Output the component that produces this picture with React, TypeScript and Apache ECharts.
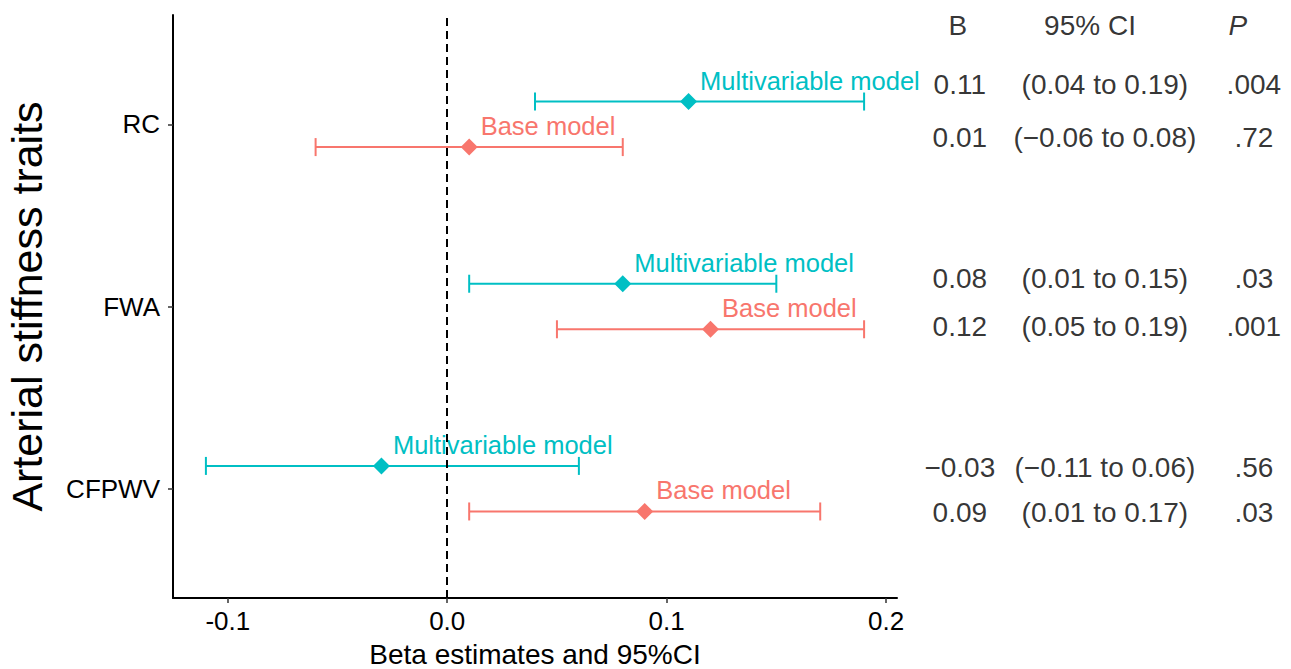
import React, { useEffect, useRef } from "react";
import * as echarts from "echarts";

// Categories from bottom (y = 1) to top (y = 3)
const categories = ["CFPWV", "FWA", "RC"];
const multiEst = [-0.03, 0.08, 0.11];
const multiLow = [-0.11, 0.01, 0.04];
const multiHigh = [0.06, 0.15, 0.19];
const baseEst = [0.09, 0.12, 0.01];
const baseLow = [0.01, 0.05, -0.06];
const baseHigh = [0.17, 0.19, 0.08];

const xTicks = [-0.1, 0, 0.1, 0.2];
const xTickLabels = ["-0.1", "0.0", "0.1", "0.2"];

// Table (top to bottom rows)
const tableHeaders = ["B", "95% CI", "P"];
const tableB = ["0.11", "0.01", "0.08", "0.12", "\u22120.03", "0.09"];
const tableCI = [
  "(0.04 to 0.19)",
  "(\u22120.06 to 0.08)",
  "(0.01 to 0.15)",
  "(0.05 to 0.19)",
  "(\u22120.11 to 0.06)",
  "(0.01 to 0.17)",
];
const tableP = [".004", ".72", ".03", ".001", ".56", ".03"];
// annotation positions (in y-axis data units)
const tableRowY = [3.216, 2.93, 2.151, 1.888, 1.116, 0.867];
const tableHeaderY = 3.545;

const TEAL = "#00BFC4";
const SALMON = "#F8766D";
const FONT = "'Liberation Sans', Arial, Helvetica, sans-serif";
const DODGE = 0.125;

export default function App() {
  const ref = useRef<HTMLDivElement>(null);

  useEffect(() => {
    if (!ref.current) return;
    const chart = echarts.init(ref.current, null, { renderer: "svg" });

    const yPos = (i: number) => i + 1;

    const multiPts = multiEst.map((v, i) => [v, yPos(i) + DODGE]);
    const basePts = baseEst.map((v, i) => [v, yPos(i) - DODGE]);
    const multiBars = multiEst.map((_, i) => [multiLow[i], multiHigh[i], yPos(i) + DODGE]);
    const baseBars = baseEst.map((_, i) => [baseLow[i], baseHigh[i], yPos(i) - DODGE]);

    const errRender = (color: string) => (params: any, api: any) => {
      const y = api.value(2);
      const p1 = api.coord([api.value(0), y]);
      const p2 = api.coord([api.value(1), y]);
      const h = 9;
      const style = { stroke: color, lineWidth: 2, fill: "none" };
      return {
        type: "group",
        children: [
          { type: "line", shape: { x1: p1[0], y1: p1[1], x2: p2[0], y2: p2[1] }, style },
          { type: "line", shape: { x1: p1[0], y1: p1[1] - h, x2: p1[0], y2: p1[1] + h }, style },
          { type: "line", shape: { x1: p2[0], y1: p2[1] - h, x2: p2[0], y2: p2[1] + h }, style },
        ],
      };
    };

    const colX = [0.153, 0.524, 0.905];
    const headerX = [0.148, 0.486, 0.864];

    const tableData: any[] = [];
    tableHeaders.forEach((h, c) => {
      tableData.push({
        value: [headerX[c], tableHeaderY],
        name: h,
        label: { fontStyle: c === 2 ? "italic" : "normal" },
      });
    });
    tableRowY.forEach((y, r) => {
      tableData.push({ value: [colX[0], y], name: tableB[r] });
      tableData.push({ value: [colX[1], y], name: tableCI[r] });
      tableData.push({ value: [colX[2], y], name: tableP[r] });
    });

    const pointLabel = (text: string, color: string) => ({
      show: true,
      position: "right",
      distance: 3,
      offset: [0, -21],
      formatter: text,
      color,
      fontSize: 25.5,
      fontFamily: FONT,
    });

    chart.setOption({
      animation: false,
      textStyle: { fontFamily: FONT },
      grid: [
        { left: 173, right: 394, top: 15, bottom: 71, containLabel: false, outerBoundsMode: "none" },
        { left: 900, right: 0, top: 15, bottom: 71, containLabel: false, outerBoundsMode: "none" },
      ],
      xAxis: [
        {
          type: "value",
          gridIndex: 0,
          min: -0.125,
          max: 0.205,
          splitLine: { show: false },
          axisLine: { show: true, onZero: false, lineStyle: { color: "#000", width: 2 } },
          axisTick: {
            show: true,
            customValues: xTicks,
            length: 5,
            lineStyle: { color: "#333", width: 1.5 },
          },
          axisLabel: {
            customValues: xTicks,
            formatter: (v: number) => xTickLabels[xTicks.findIndex((t) => Math.abs(t - v) < 1e-9)] ?? "",
            color: "#000",
            fontSize: 26,
            margin: 10,
            fontFamily: FONT,
          },
          name: "Beta estimates and 95%CI",
          nameLocation: "middle",
          nameGap: 42,
          nameTextStyle: { fontSize: 28, color: "#000", fontFamily: FONT },
        },
        { type: "value", gridIndex: 1, min: 0, max: 1, show: false },
      ],
      yAxis: [
        {
          type: "value",
          gridIndex: 0,
          min: 0.4,
          max: 3.6,
          splitLine: { show: false },
          axisLine: { show: true, onZero: false, lineStyle: { color: "#000", width: 2 } },
          axisTick: {
            show: true,
            customValues: [1, 2, 3],
            length: 5,
            lineStyle: { color: "#333", width: 1.5 },
          },
          axisLabel: {
            customValues: [1, 2, 3],
            formatter: (v: number) => categories[Math.round(v) - 1] ?? "",
            color: "#000",
            fontSize: 26,
            margin: 13,
            fontFamily: FONT,
          },
          name: "Arterial stiffness traits",
          nameLocation: "middle",
          nameGap: 125,
          nameTextStyle: { fontSize: 43, lineHeight: 43, color: "#000", fontFamily: FONT },
        },
        { type: "value", gridIndex: 1, min: 0.4, max: 3.6, show: false },
      ],
      series: [
        {
          type: "line",
          xAxisIndex: 0,
          yAxisIndex: 0,
          data: [],
          markLine: {
            silent: true,
            symbol: "none",
            label: { show: false },
            lineStyle: { color: "#000", width: 2, type: [8, 5] },
            data: [{ xAxis: 0 }],
          },
          z: 1,
        },
        {
          type: "custom",
          xAxisIndex: 0,
          yAxisIndex: 0,
          renderItem: errRender(TEAL),
          encode: { x: [0, 1], y: 2 },
          data: multiBars,
          z: 2,
        },
        {
          type: "custom",
          xAxisIndex: 0,
          yAxisIndex: 0,
          renderItem: errRender(SALMON),
          encode: { x: [0, 1], y: 2 },
          data: baseBars,
          z: 2,
        },
        {
          type: "scatter",
          xAxisIndex: 0,
          yAxisIndex: 0,
          symbol: "diamond",
          symbolSize: 17,
          itemStyle: { color: TEAL, opacity: 1 },
          data: multiPts,
          label: pointLabel("Multivariable model", TEAL),
          z: 3,
        },
        {
          type: "scatter",
          xAxisIndex: 0,
          yAxisIndex: 0,
          symbol: "diamond",
          symbolSize: 17,
          itemStyle: { color: SALMON, opacity: 1 },
          data: basePts,
          label: pointLabel("Base model", SALMON),
          z: 3,
        },
        {
          type: "scatter",
          xAxisIndex: 1,
          yAxisIndex: 1,
          symbolSize: 0,
          silent: true,
          data: tableData,
          label: {
            show: true,
            position: "inside",
            formatter: (p: any) => p.name,
            color: "#000",
            fontSize: 28,
            fontFamily: FONT,
          },
        },
      ],
    });

    return () => chart.dispose();
  }, []);

  return (
    <div
      ref={ref}
      style={{ position: "fixed", left: 0, top: 0, width: 1291, height: 669, background: "#fff" }}
    />
  );
}
